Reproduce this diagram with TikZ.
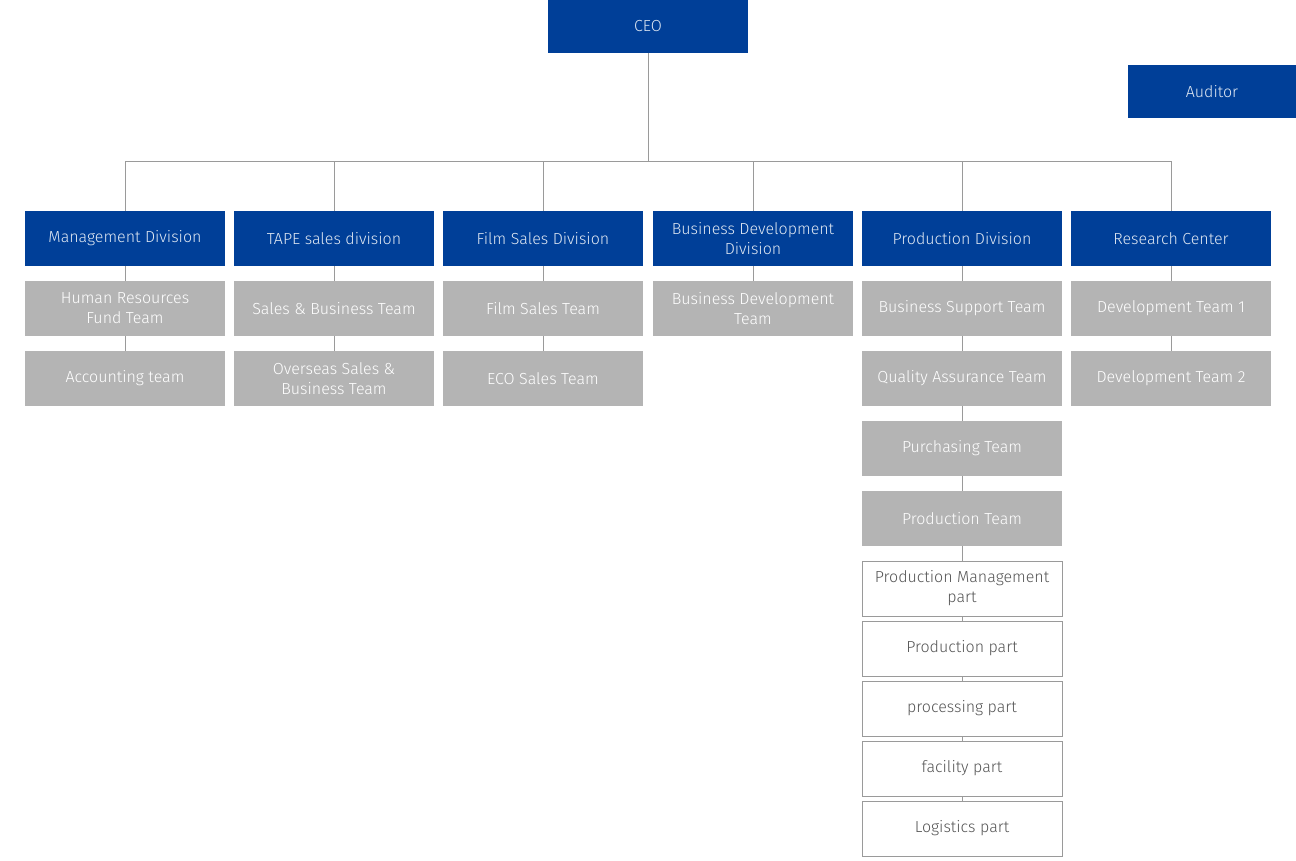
\documentclass[tikz,border=0pt]{standalone}
\usepackage{fontspec}
\setmainfont{Fira Sans Light}
\usepackage{tikz}

\definecolor{divblue}{HTML}{003F98}
\definecolor{teamgray}{HTML}{B4B4B4}
\definecolor{linegray}{HTML}{9A9A9A}
\definecolor{parttext}{HTML}{555555}

\tikzset{
  unit/.style={minimum width=200pt, minimum height=55pt, inner sep=0pt, align=center,
    font=\fontsize{16}{20}\selectfont},
  topbox/.style={unit, fill=divblue, text=white!88!divblue},
  teambox/.style={unit, fill=teamgray, text=white},
  partbox/.style={unit, draw=linegray, fill=white, text=parttext, line width=1pt},
  link/.style={draw=linegray, line width=1pt}
}

\begin{document}
\begin{tikzpicture}[x=1pt,y=-1pt]
\useasboundingbox (0,0) rectangle (1296,861);
% top
\node [topbox, minimum height=53pt] (ceo) at (648,26.5) {CEO};
\node [topbox, minimum width=168pt, minimum height=53pt] (auditor) at (1212,91.5) {Auditor};
\coordinate (bus) at (648,162);
% divisions
\node [topbox] (mgmt) at (125,238.5) {Management Division};
\node [topbox] (tape) at (334,238.5) {TAPE sales division};
\node [topbox] (film) at (543,238.5) {Film Sales Division};
\node [topbox] (bizdev) at (753,238.5) {Business Development\\Division};
\node [topbox] (prod) at (962,238.5) {Production Division};
\node [topbox] (lab) at (1171,238.5) {Research Center};
% teams
\node [teambox] (hr) at (125,308.5) {Human Resources\\Fund Team};
\node [teambox] (acct) at (125,378.5) {Accounting team};
\node [teambox] (salesbiz) at (334,308.5) {Sales \& Business Team};
\node [teambox] (overseas) at (334,378.5) {Overseas Sales \&\\Business Team};
\node [teambox] (filmteam) at (543,308.5) {Film Sales Team};
\node [teambox] (eco) at (543,378.5) {ECO Sales Team};
\node [teambox] (bizdevteam) at (753,308.5) {Business Development\\Team};
\node [teambox] (support) at (962,308.5) {Business Support Team};
\node [teambox] (qa) at (962,378.5) {Quality Assurance Team};
\node [teambox] (purch) at (962,448.5) {Purchasing Team};
\node [teambox] (prodteam) at (962,518.5) {Production Team};
\node [teambox] (dev1) at (1171,308.5) {Development Team 1};
\node [teambox] (dev2) at (1171,378.5) {Development Team 2};
% parts
\node [partbox] (pm) at (962,588.5) {Production Management\\part};
\node [partbox] (pp) at (962,648.5) {Production part};
\node [partbox] (proc) at (962,708.5) {processing part};
\node [partbox] (fac) at (962,768.5) {facility part};
\node [partbox] (logi) at (962,828.5) {Logistics part};
% links
\path [link] (ceo) -- (bus);
\path [link] (mgmt) |- (bus);
\path [link] (tape) |- (bus);
\path [link] (film) |- (bus);
\path [link] (bizdev) |- (bus);
\path [link] (prod) |- (bus);
\path [link] (lab) |- (bus);
\path [link] (mgmt) -- (hr) -- (acct);
\path [link] (tape) -- (salesbiz) -- (overseas);
\path [link] (film) -- (filmteam) -- (eco);
\path [link] (bizdev) -- (bizdevteam);
\path [link] (prod) -- (support) -- (qa) -- (purch) -- (prodteam) -- (pm) -- (pp) -- (proc) -- (fac) -- (logi);
\path [link] (lab) -- (dev1) -- (dev2);
\end{tikzpicture}
\end{document}
